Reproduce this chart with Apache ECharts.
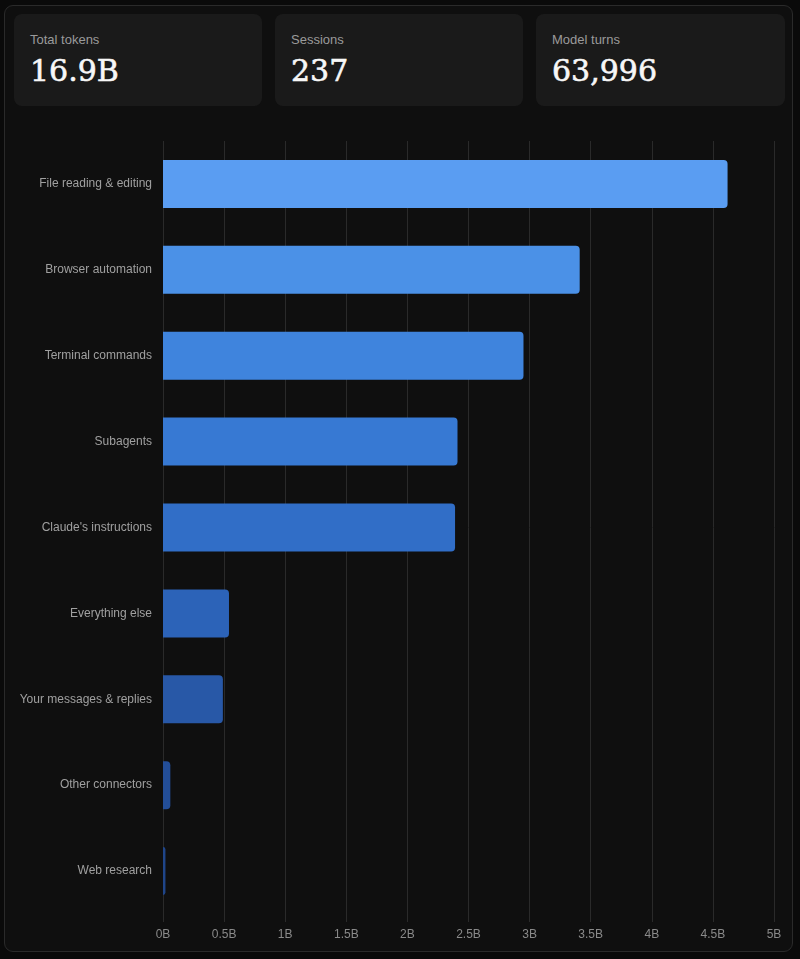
<!DOCTYPE html>
<html>
<head>
<meta charset="utf-8">
<script src="https://cdn.jsdelivr.net/npm/echarts@6/dist/echarts.min.js"></script>
<style>
	html, body { margin: 0; padding: 0; background: #0a0a0a; }
	body { width: 800px; height: 959px; position: relative; overflow: hidden; font-family: "Liberation Sans", Arial, sans-serif; }
	.panel { position: absolute; left: 4px; top: 5px; width: 789px; height: 947px; background: #0f0f0f; border: 1px solid #2a2a2a; border-radius: 9px; box-sizing: border-box; }
	.card { position: absolute; top: 14px; height: 92px; width: 248px; background: #1a1a1a; border-radius: 8px; }
	.card .lbl { position: absolute; left: 16px; top: 18px; font-size: 13px; color: #9a9a9a; }
	.card .val { position: absolute; left: 16px; top: 39px; font-family: "DejaVu Serif", Georgia, serif; font-size: 30px; color: #f7f7f7; -webkit-text-stroke: 0.6px #f7f7f7; }
	#chart { position: absolute; left: 0; top: 0; width: 800px; height: 959px; }
</style>
</head>
<body>
<div class="panel"></div>
<div class="card" style="left:14px"><div class="lbl">Total tokens</div><div class="val">16.9B</div></div>
<div class="card" style="left:275px"><div class="lbl">Sessions</div><div class="val">237</div></div>
<div class="card" style="left:536px;width:249px"><div class="lbl">Model turns</div><div class="val">63,996</div></div>
<div id="chart"></div>
<script>
// 类目 & 数值 (单位: B)
var categories = ['File reading & editing', 'Browser automation', 'Terminal commands', 'Subagents',
	"Claude's instructions", 'Everything else', 'Your messages & replies', 'Other connectors', 'Web research'];
var tokens = [4.62, 3.41, 2.95, 2.41, 2.39, 0.54, 0.49, 0.06, 0.02];
var xTicks = { min: 0, max: 5, step: 0.5 };

// 颜色从浅到深
var palette = ['#5a9df2', '#4b91e7', '#3f84dd', '#3779d3', '#316ec7', '#2c63b8', '#2858a7', '#234e98', '#1f4589'];

var myChart = echarts.init(document.getElementById('chart'));
var barData = [];
for (var i = 0; i < tokens.length; i++) {
	barData.push({
		value: tokens[i],
		itemStyle: { color: palette[i] }
	});
}

var options = {
	animation: false,
	grid: { left: 163, right: 26, top: 141, bottom: 45, containLabel: false },
	xAxis: {
		type: 'value',
		min: xTicks.min,
		max: xTicks.max,
		interval: xTicks.step,
		axisLine: { show: false },
		axisTick: { show: true, length: 8, lineStyle: { color: '#2a2a2a' } },
		splitLine: { show: true, lineStyle: { color: '#2a2a2a', width: 1 } },
		axisLabel: {
			color: '#8a8a8a',
			fontSize: 12,
			margin: 15,
			fontFamily: 'Liberation Sans',
			formatter: function(v) { return v + 'B'; }
		}
	},
	yAxis: {
		type: 'category',
		inverse: true,
		data: categories,
		axisLine: { show: false },
		axisTick: { show: false },
		axisLabel: { color: '#a0a0a0', fontSize: 12, margin: 11, fontFamily: 'Liberation Sans', padding: [2, 0, 0, 0] }
	},
	series: [{
		type: 'bar',
		data: barData,
		barWidth: 48,
		itemStyle: { borderRadius: [0, 4, 4, 0] }
	}]
};
myChart.setOption(options);
</script>
</body>
</html>
